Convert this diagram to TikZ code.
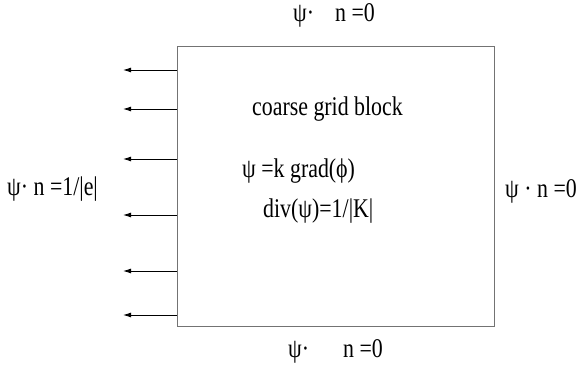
\documentclass[tikz,border=0pt]{standalone}
\usepackage{fontspec}
\usepackage{graphicx}
\setmainfont{Liberation Serif}
\usetikzlibrary{arrows.meta}
\newcommand\sq[1]{\scalebox{0.81}[1]{#1}}
\begin{document}
\begin{tikzpicture}[x=1pt,y=1pt,
  lbl/.style={anchor=base west,inner sep=0pt,font=\fontsize{27}{30}\selectfont},
  blockbox/.style={draw=black!55,line width=1.4pt},
  flux/.style={draw=black,line width=0.9pt,-{Latex[length=8pt,width=5pt]}}]
\useasboundingbox (0,0) rectangle (581,370);
\node[blockbox,minimum width=317pt,minimum height=280pt,inner sep=0pt,anchor=south west] (blk) at (177,43) {};
\foreach \i/\y in {1/70,2/109,3/159,4/215,5/271,6/315}{
  \coordinate (s\i) at (177,370-\y);
  \coordinate (e\i) at (123,370-\y);
  \draw[flux] (s\i) -- (e\i);
}
\node[lbl] (top) at (293,348) {\sq{ψ·\hspace{26pt}n =0}};
\node[lbl] (bot) at (288,13) {\sq{ψ·\hspace{42pt}n =0}};
\node[lbl] (rgt) at (505,172) {\sq{ψ · n =0}};
\node[lbl] (lft) at (7,175) {\sq{ψ· n =1/|e|}};
\node[lbl] (cgb) at (252,254) {\sq{coarse grid block}};
\node[lbl] (grad) at (242,193) {\sq{ψ =k grad(ϕ)}};
\node[lbl] (div) at (263,153) {\sq{div(ψ)=1/|K|}};
\end{tikzpicture}
\end{document}
